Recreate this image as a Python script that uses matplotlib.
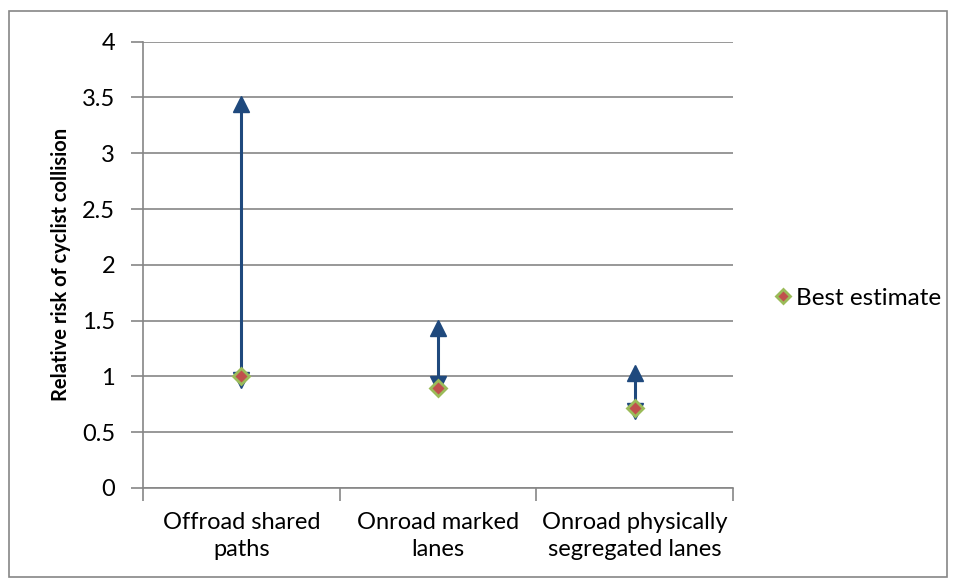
import numpy as np
import matplotlib.pyplot as plt
from matplotlib.patches import Rectangle

categories = ["Offroad shared\npaths", "Onroad marked\nlanes", "Onroad physically\nsegregated lanes"]
high = [3.44, 1.43, 1.03]
low = [0.97, 0.93, 0.69]
best = [1.0, 0.9, 0.72]

plt.rcParams['font.family'] = ['Lato', 'DejaVu Sans']

fig = plt.figure(figsize=(9.56, 5.83), dpi=100)
ax = fig.add_axes([0.1496, 0.163, 0.617, 0.7655])

x = np.arange(len(categories))
blue = "#1F497D"
grid = "#868686"

ax.vlines(x, low, high, color=blue, lw=2.2, zorder=3)
ax.plot(x, high, ls="none", marker="^", ms=11, color=blue, zorder=4)
ax.plot(x, low, ls="none", marker="v", ms=11, color=blue, zorder=4)
ax.plot(x, best, ls="none", marker="D", ms=8.5, mfc="#C0504D", mec="#9BBB59",
        mew=2, zorder=5, label="Best estimate")

ax.set_xlim(-0.5, 2.5)
ax.set_ylim(0, 4)
ax.set_yticks(np.arange(0, 4.01, 0.5))
ax.set_yticklabels(["0", "0.5", "1", "1.5", "2", "2.5", "3", "3.5", "4"])
ax.set_xticks([-0.5, 0.5, 1.5, 2.5])
ax.set_xticklabels([])
ax.set_xticks(x, minor=True)
ax.set_xticklabels(categories, minor=True, linespacing=1.4)
ax.tick_params(axis="x", which="minor", length=0, labelsize=17, pad=17)
ax.tick_params(axis="x", which="major", length=9, color=grid, width=1.2)
ax.tick_params(axis="y", length=9, color=grid, width=1.2, labelsize=17, pad=11)
ax.yaxis.grid(True, color=grid, lw=1.2)
ax.set_axisbelow(True)
for s in ["top", "right"]:
    ax.spines[s].set_visible(False)
for s in ["left", "bottom"]:
    ax.spines[s].set_color(grid)
    ax.spines[s].set_linewidth(1.2)

ax.set_ylabel("Relative risk of cyclist collision", fontsize=14.5, fontweight="bold", labelpad=8)

ax.legend(loc="center left", bbox_to_anchor=(1.027, 0.425), frameon=False, fontsize=17.5,
          handletextpad=0.05, handlelength=1.0, markerscale=0.85)

fig.patches.append(Rectangle((9 / 956, 6 / 583), 938 / 956, 566 / 583, transform=fig.transFigure,
                             fill=False, edgecolor=grid, lw=1.2))

fig.savefig("out.png", dpi=100)
